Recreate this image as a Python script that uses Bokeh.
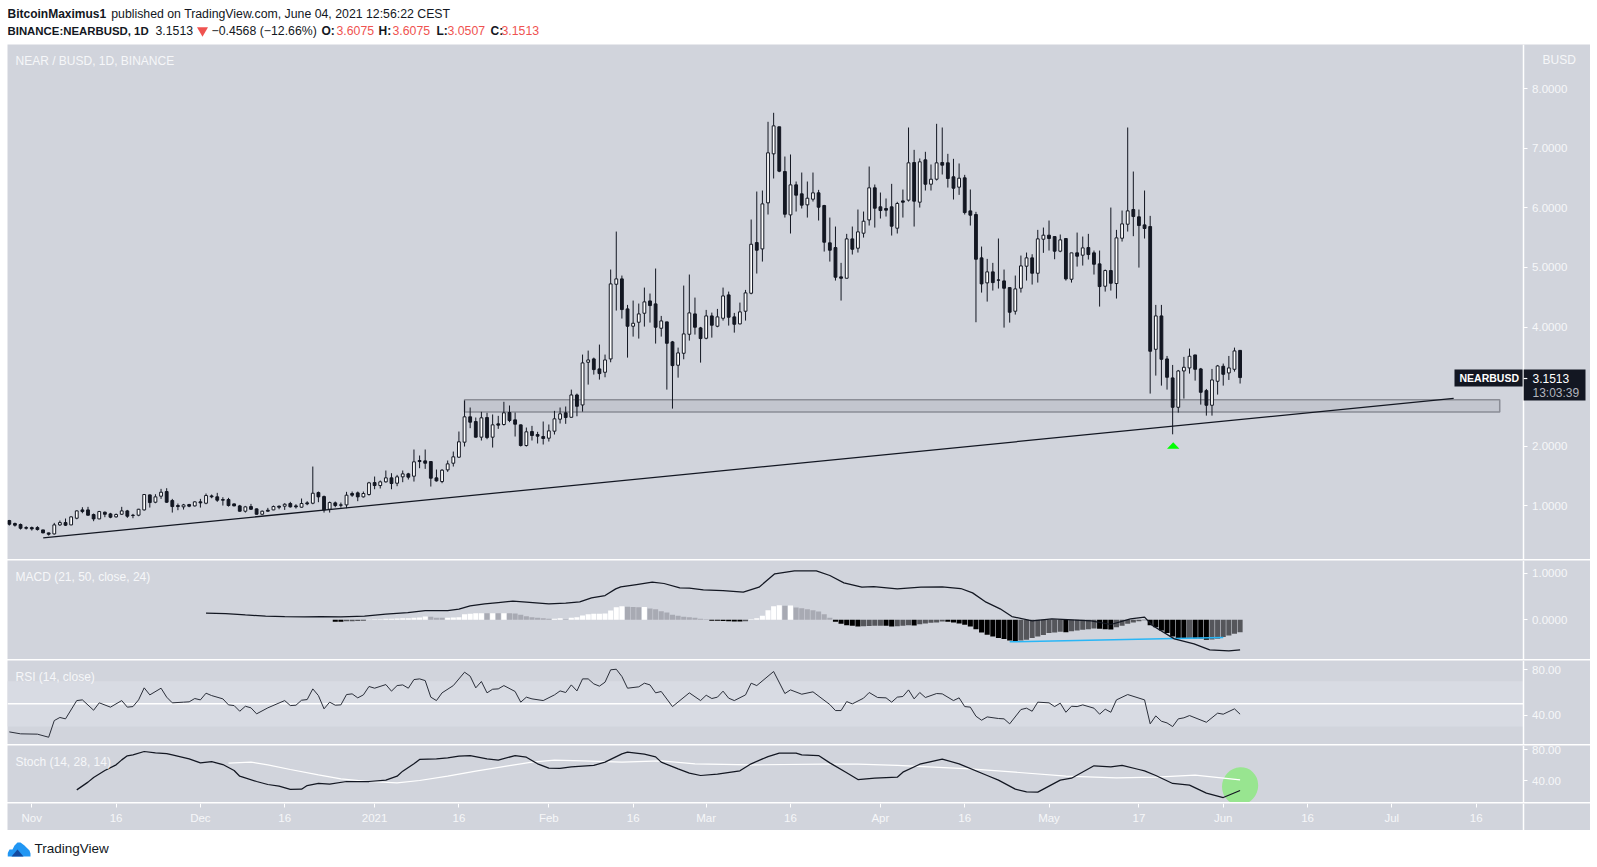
from bokeh.plotting import figure
from bokeh.layouts import column
from bokeh.models import Range1d, Label, BoxAnnotation, FixedTicker, NumeralTickFormatter
from bokeh.embed import file_html
from bokeh.resources import INLINE

# ---------- data ----------
first_day = -4  # days counted from 1 Nov 2020
highs = [
 .761,.716,.700,.655,.649,.655,.593,.548,.711,.750,
 .784,.823,.918,.974,.980,.868,.912,.901,.879,.868,
 .980,.929,.862,.946,1.192,1.187,1.192,1.282,1.293,1.114,
 1.036,1.030,1.030,1.075,1.114,1.204,1.187,1.215,1.142,1.131,
 1.036,1.013,.996,1.030,.952,.918,.963,1.002,1.002,1.041,
 1.064,1.024,1.120,1.075,1.657,1.237,1.170,1.069,1.069,1.052,
 1.232,1.237,1.237,1.237,1.400,1.489,1.422,1.590,1.545,1.517,
 1.590,1.551,1.943,1.842,1.943,1.741,1.607,1.612,1.758,1.909,
 2.245,2.766,2.648,2.480,2.576,2.559,2.531,2.508,2.744,2.682,
 2.564,2.363,2.312,2.340,2.240,2.413,2.363,2.592,2.648,2.665,
 2.949,2.882,3.537,3.604,3.486,3.705,3.537,4.965,5.603,4.864,
 4.371,4.444,4.394,4.662,4.562,4.982,4.186,4.086,3.766,3.654,
 4.696,4.881,4.494,4.002,4.287,4.242,4.304,4.662,4.595,4.237,
 4.410,4.623,5.805,6.275,6.292,7.446,7.597,7.362,6.863,6.897,
 6.443,6.594,6.443,6.594,6.303,6.051,5.838,5.687,5.077,5.564,
 5.687,5.973,5.939,6.695,6.393,6.258,6.158,6.404,6.102,6.309,
 7.350,6.975,6.830,6.942,6.729,7.412,7.350,6.908,6.824,6.746,
 6.555,6.309,5.934,5.351,5.144,5.077,5.486,4.965,4.662,4.864,
 5.200,5.250,5.222,5.631,5.670,5.788,5.519,5.553,5.486,5.245,
 5.586,5.519,5.564,5.284,5.284,4.965,6.006,5.631,5.956,7.350,
 6.611,5.973,6.292,5.866,4.371,4.371,3.514,3.363,3.279,3.498,
 3.638,3.531,3.313,2.960,3.296,3.363,3.386,3.514,3.654,3.6075]
lows = [
 .666,.649,.599,.599,.582,.582,.537,.498,.515,.660,
 .660,.672,.772,.873,.834,.739,.772,.806,.789,.800,
 .845,.795,.789,.823,.918,.968,1.041,1.114,1.047,.884,
 .924,.935,.974,.985,.968,1.024,1.125,1.064,1.002,.985,
 .991,.901,.884,.929,.851,.851,.901,.924,.940,.929,
 .968,.952,.968,1.008,1.024,1.058,.884,.884,.974,.968,
 .957,1.148,1.075,1.136,1.170,1.276,1.288,1.388,1.276,1.327,
 1.394,1.439,1.405,1.629,1.618,1.321,1.405,1.377,1.568,1.657,
 1.803,1.993,2.301,2.144,2.094,2.116,1.976,2.290,2.346,2.402,
 2.161,1.993,1.993,2.094,2.044,2.027,2.077,2.195,2.380,2.374,
 2.484,2.501,2.579,3.033,3.201,3.117,3.156,3.408,4.276,4.142,
 3.486,3.839,3.806,4.007,4.074,3.722,3.839,2.949,2.630,3.150,
 3.458,3.772,3.873,3.402,3.794,3.822,3.996,4.108,4.024,3.906,
 4.046,4.108,4.550,4.898,5.099,5.889,6.494,6.600,5.838,5.570,
 5.939,5.990,5.838,6.107,5.788,5.267,5.099,4.780,4.444,4.819,
 5.217,5.250,5.502,5.704,5.670,5.822,5.855,5.536,5.570,5.838,
 6.107,5.687,6.006,6.292,6.292,6.460,6.561,6.342,6.141,6.219,
 5.889,5.704,4.080,4.578,4.427,4.612,4.646,3.990,4.074,4.209,
 4.578,4.780,4.713,4.746,5.245,5.284,5.138,5.256,4.780,4.746,
 5.015,5.032,5.133,4.881,4.343,4.595,4.612,4.478,5.435,5.603,
 5.525,4.998,5.486,2.882,3.184,3.016,2.949,2.198,2.562,2.798,
 3.218,3.100,2.697,2.512,2.512,2.865,3.016,3.111,3.251,3.0507]
opens = [
 .750,.700,.683,.632,.632,.632,.593,.543,.526,.677,
 .716,.677,.789,.929,.929,.851,.778,.890,.862,.812,
 .856,.912,.840,.840,.929,1.181,1.058,1.159,1.237,1.086,
 1.002,.980,1.019,.996,1.064,1.041,1.164,1.148,1.103,1.103,
 1.030,.996,.907,.985,.946,.856,.924,.929,.991,.991,
 1.036,.996,.974,1.047,1.041,1.220,1.153,.940,1.047,1.013,
 1.013,1.204,1.215,1.148,1.187,1.388,1.338,1.400,1.467,1.377,
 1.484,1.534,1.495,1.758,1.752,1.741,1.467,1.405,1.601,1.713,
 1.814,2.066,2.492,2.413,2.150,2.480,2.150,2.374,2.363,2.564,
 2.441,2.357,2.010,2.245,2.195,2.161,2.133,2.251,2.452,2.559,
 2.484,2.859,2.691,3.408,3.464,3.296,3.240,3.464,4.718,4.808,
 4.304,4.013,4.080,4.231,4.438,4.388,3.979,4.086,3.750,3.358,
 3.559,3.878,4.220,3.985,3.811,4.186,4.013,4.147,4.539,4.170,
 4.052,4.265,4.567,5.418,5.312,6.085,6.908,7.362,6.611,5.883,
 6.387,6.236,6.051,6.146,6.253,6.040,5.413,5.334,4.842,4.819,
 5.480,5.323,5.575,5.799,6.337,6.018,5.990,6.018,5.659,6.118,
 6.130,6.762,6.096,6.807,6.398,6.482,6.762,6.757,6.522,6.348,
 6.505,5.950,5.889,5.161,4.741,4.926,4.791,4.774,4.662,4.265,
 4.651,5.021,5.161,4.903,5.474,5.542,5.519,5.273,5.486,4.802,
 5.245,5.206,5.334,5.245,5.060,4.685,4.948,4.730,5.491,5.726,
 5.973,5.850,5.715,5.687,3.626,4.186,3.464,3.145,2.652,3.262,
 3.313,3.531,3.296,2.932,2.686,3.089,3.341,3.229,3.290,3.6075]
closes = [
 .688,.672,.621,.621,.610,.599,.543,.520,.677,.716,
 .672,.812,.912,.901,.840,.778,.901,.856,.806,.851,
 .912,.823,.834,.940,1.187,1.052,1.148,1.226,1.058,.985,
 .985,1.013,.991,1.064,1.047,1.170,1.148,1.092,1.092,1.002,
 .996,.907,.980,.940,.856,.907,.907,.985,.974,1.024,
 .980,.980,1.036,1.030,1.209,1.148,.929,1.052,1.002,1.008,
 1.176,1.176,1.148,1.204,1.383,1.338,1.400,1.467,1.372,1.484,
 1.534,1.478,1.736,1.741,1.713,1.461,1.416,1.596,1.702,1.820,
 2.072,2.492,2.402,2.150,2.475,2.144,2.357,2.352,2.559,2.430,
 2.368,2.010,2.240,2.178,2.167,2.128,2.256,2.458,2.542,2.480,
 2.859,2.669,3.397,3.447,3.285,3.218,3.447,4.724,4.808,4.293,
 4.013,4.063,4.220,4.422,4.360,3.996,4.102,3.727,3.352,3.565,
 3.884,4.237,3.996,3.806,4.186,4.030,4.170,4.522,4.164,4.046,
 4.254,4.573,5.390,5.290,6.068,6.925,7.378,6.617,5.894,6.387,
 6.214,6.046,6.163,6.253,6.012,5.424,5.290,4.836,4.819,5.480,
 5.306,5.598,5.777,6.337,5.995,5.956,5.962,5.693,6.074,6.096,
 6.757,6.113,6.774,6.398,6.482,6.757,6.718,6.494,6.331,6.499,
 5.922,5.878,5.138,4.724,4.926,4.746,4.786,4.651,4.248,4.640,
 5.026,5.161,4.903,5.480,5.542,5.486,5.273,5.463,4.808,5.245,
 5.189,5.329,5.217,5.054,4.679,4.948,4.735,5.497,5.732,5.950,
 5.855,5.704,5.654,3.593,4.186,3.458,3.156,2.652,3.262,3.324,
 3.509,3.290,2.904,2.686,3.111,3.346,3.206,3.313,3.598,3.1513]

hist_first_day = 54
hist_vals = [
 -.0393,-.0429,-.0322,-.0286,-.0250,-.0215,
 .0072,.0114,.0143,.0215,.0250,.0286,.0322,.0358,.0429,.0501,.0715,
 .0679,.0465,.0429,.0465,.0501,.0572,.1216,.1323,.1394,.1430,.1394,.1430,.1394,.1430,.1401,.1373,
 .1073,.0787,.0572,.0429,.0322,.0215,.0250,.0358,.0143,.0429,.0572,.0930,.1216,.1287,.1323,.1359,.2002,.2717,.2932,
 .2789,.2753,.2717,.2753,.2431,.2288,.1859,.1573,.1073,.0858,.0644,.0572,.0429,.0215,.0143,
 -.0215,-.0229,-.0250,-.0286,-.0358,-.0379,-.0286,
 .0143,.0358,.0858,.2074,.2932,.3146,.3003,.3075,.2646,.2503,.2288,.2074,.1788,.1216,.0429,
 -.0429,-.0858,-.1144,-.1287,-.1430,-.1394,-.1323,-.1287,-.1251,-.1287,-.1430,-.1359,-.1287,-.1180,-.1216,
 -.0930,-.0787,-.0644,-.0572,-.0358,-.0429,-.0572,-.0787,-.1073,-.1430,-.2002,-.2717,-.3218,-.3575,-.3933,
 -.4147,-.4433,-.4648,-.4433,-.4290,-.3933,-.3575,-.3289,-.2860,-.2717,-.2574,-.2646,-.2431,-.2288,-.2145,
 -.2002,-.1859,-.1931,-.2002,-.2074,-.1573,-.1287,-.0858,-.0572,-.0286,-.0072,-.1144,-.1573,-.2288,-.2860,
 -.3575,-.3933,-.4004,-.3968,-.4004,-.4040,-.4290,-.4219,-.4076,-.3718,-.3361,-.3003,-.2646]

macd_days = [31,34.5,38,41.6,45,48.6,51.4,55,59.2,63,66.9,70,74,76,78,80.6,83,85.6,88,92,95,97.5,99.6,102,103.9,104.8,
 107.6,110.4,112.5,115.3,117,119.5,123,126.6,129.4,132.2,135.7,139.6,142,144.5,147.7,149.8,154,158.2,162,165.3,167.4,
 169.8,172.3,174.4,178,181.5,184.3,188.5,192,195.5,198,199.4,203.3,206.8,209.6,213,215]
macd_vals = [.142,.135,.106,.078,.070,.063,.070,.063,.078,.120,.156,.199,.199,.228,.299,.342,.371,.399,.378,.342,.357,.385,.471,.521,.664,.707,
 .757,.807,.779,.686,.678,.643,.628,.593,.700,.986,1.050,1.050,.950,.793,.700,.714,.664,.700,.707,.671,.578,
 .378,.235,.070,-.023,.020,.006,-.023,-.101,.020,.056,-.123,-.409,-.516,-.645,-.666,-.645]

rsi_days = [-4,-2,1,3,4,5,6,8,9,11,12,14,16,17,18,19,20,21,23,24,25,27,28,29,30,31,32,34,35,36,37,38,39,40,42,45,46,47,48,49,50,51,52,53,54,55,56,57,58,59,60,61,63,64,65,66,67,68,69,70,71,72,73,75,77,78,79,80,81,82,83,84,86,87,88,89,91,93,94,95,96,97,98,99,100,101,102,103,104,
 105,106,108,109,110,111,112,114,117,119,120,121,122,123,124,125,127,128,129,132,134,135,137,139,142,143,144,145,146,148,149,150.5,152,153,154,155,156,157,158,159,161,162,164,165,166,167,168,169,170,172,173,174,176,177,178,179,181,182,183,184,185,186,187,189,190,191,192,193,195,198,199,200,201,202,203,204,205,206,209,211,212,214,215]
rsi_vals = [25.3,23.6,23.3,20.6,35.3,38.0,36.8,52.9,53.5,44.4,50.9,47.1,52.9,47.1,47.6,53.5,64.1,57.9,63.8,55.9,50.9,51.5,51.8,54.7,53.5,59.4,57.3,54.4,49.1,48.5,43.5,47.9,46.5,41.2,46.5,52.9,48.5,48.8,53.2,53.8,63.2,57.3,45.6,51.5,48.8,49.1,58.2,58.8,55.3,57.9,65.3,63.8,67.0,61.2,66.1,66.7,63.8,71.4,72.0,70.5,55.9,52.9,59.7,66.1,77.9,74.4,64.1,69.7,59.7,62.9,63.2,66.1,60.9,51.5,55.9,54.4,52.9,57.9,61.4,60.0,66.7,61.4,72.0,72.0,67.6,65.6,69.1,80.0,80.5,
 74.1,63.8,65.0,68.2,66.7,59.7,60.9,47.6,59.7,52.9,57.6,54.7,55.9,61.2,55.0,52.9,57.9,68.2,66.1,78.5,59.1,62.3,58.5,60.6,49.4,44.1,44.1,52.0,50.0,55.0,60.0,55.6,55.3,51.5,55.9,56.5,62.3,54.4,60.0,55.6,59.1,58.8,52.9,55.3,47.6,47.1,39.1,35.6,38.5,37.1,36.8,32.4,45.0,46.2,43.5,51.5,50.9,47.6,50.6,42.6,47.9,47.6,49.1,46.2,40.9,45.3,42.6,53.5,58.2,53.5,32.4,39.4,34.7,33.2,30.0,36.8,37.7,39.7,33.8,41.8,40.9,45.6,40.9]

stoch_k_days = [8,10,11,13,15,16,17,18,20,22,24,25,28,30,32,34,36,37,40,42,44,46,48,49,51,53,56,60,63,65,66,68,69,72,74,76,78,81,83,86,88,90,92,94,96,100,102,105,
 106,109,111,112,115,117,119,122,126,128,131,133,136,137,140,142,145,147,150,154,155,158,162,165,170,172,175,177,179,181,183,185,189,192,194,197,198,200,203,206,209,212,215]
stoch_k_vals = [28.5,38.3,44.2,53.0,60.2,66.5,71.6,72.8,77.1,75.4,74.5,72.8,67.8,62.7,64.4,60.6,53.0,45.8,39.1,35.3,33.2,29.0,29.4,34.0,36.6,35.7,39.1,39.1,40.8,45.8,52.2,61.5,67.0,67.8,69.0,71.2,72.0,67.8,66.1,72.0,69.9,61.5,56.0,55.6,57.7,59.4,63.6,74.1,
 76.2,73.7,70.3,63.6,55.1,49.7,46.7,48.4,52.6,61.5,70.7,75.0,75.0,72.8,72.0,62.7,50.1,41.6,43.3,44.6,50.9,61.0,67.4,61.5,46.7,40.8,29.4,26.0,25.6,33.2,40.8,43.3,59.0,57.7,59.4,54.3,52.6,46.7,36.6,34.5,24.3,18.8,27.7]
stoch_d_days = [35,39,42,46,51,55,60,65,69,74,79,85,89,93,98,105,112,118,128,141,147,154,167,175,184,193,200,207,215]
stoch_d_vals = [62.3,63.6,60.2,54.3,47.5,42.5,39.1,37.4,40.4,45.8,52.2,59.3,63.6,66.1,65.3,63.6,65.3,61.5,60.2,61.0,61.0,59.4,55.1,50.9,45.8,43.7,44.6,47.1,41.2]

price_ticks = [1, 2, 3, 4, 5, 6, 7, 8]
macd_ticks = [0, 1]
osc_ticks = [40, 80]
time_tick_days = [0, 15, 30, 45, 61, 76, 92, 107, 120, 135, 151, 166, 181, 197, 212, 227, 242, 257]
time_tick_labels = ["Nov","16","Dec","16","2021","16","Feb","16","Mar","16","Apr","16","May","17","Jun","16","Jul","16"]

zone_days = [77, 261.2]
zone_prices = [2.573, 2.778]
trend_days = [2.03, 253]
trend_prices = [0.46, 2.80]
divergence_days = [174, 212]
divergence_vals = [-.472, -.38]
signal_days = [202, 203.1, 204.2]
signal_prices = [1.955, 2.065, 1.955]
rsi_band = [30, 70]
rsi_mid = 50

# ---------- styling ----------
PANEL = "#d1d4dc"
INK = "#131722"
SOFT = "#f6f7f9"
FONT = "Liberation Sans"
WIDTH = 1583
X_START, X_END = -4.324, 277.35
AXIS_DAY = 265.36
day_of_x = lambda px: (px - 31.3) / 5.62


def pane(h, y_range, ticks=None, fmt=None, with_time_axis=False):
    p = figure(width=WIDTH, height=h, x_range=Range1d(X_START, X_END), y_range=Range1d(*y_range),
               x_axis_location="below" if with_time_axis else None, y_axis_location="right",
               toolbar_location=None, output_backend="svg", min_border=0,
               background_fill_color=PANEL, border_fill_color=PANEL, outline_line_color=None)
    p.grid.visible = False
    ax = p.yaxis[0]
    ax.fixed_location = AXIS_DAY
    ax.axis_line_color = "white"
    ax.axis_line_width = 1.5
    if ticks:
        ax.ticker = FixedTicker(ticks=ticks)
        ax.formatter = NumeralTickFormatter(format=fmt)
        ax.major_tick_line_color = "white"
        ax.major_tick_out = 4
        ax.major_tick_in = 0
        ax.minor_tick_line_color = None
        ax.major_label_standoff = 5
        ax.major_label_text_color = SOFT
        ax.major_label_text_font = FONT
        ax.major_label_text_font_size = "11.5px"
        ax.major_label_text_font_style = "normal"
    else:
        ax.ticker = FixedTicker(ticks=[])
        ax.major_tick_line_color = None
        ax.minor_tick_line_color = None
    return p


def text(p, x, y, s, color=SOFT, size="12px", style="normal", font=FONT):
    p.add_layout(Label(x=x, y=y, text=s, text_color=color, text_font_size=size, text_font_style=style,
                       text_font=font, text_baseline="middle", text_align="left", level="overlay"))


# ---------- header ----------
head = figure(width=WIDTH, height=43, x_range=Range1d(7, 7 + WIDTH), y_range=Range1d(43, 0),
              x_axis_location=None, y_axis_location=None, toolbar_location=None, output_backend="svg",
              min_border=0, background_fill_color="white", border_fill_color="white", outline_line_color=None)
head.grid.visible = False
RED = "#ef5350"
text(head, 7, 13, "BitcoinMaximus1", INK, "12px", "bold")
text(head, 110.7, 13, "published on TradingView.com, June 04, 2021 12:56:22 CEST", INK, "12.3px")
text(head, 7, 30, "BINANCE:NEARBUSD, 1D", INK, "11.4px", "bold")
text(head, 155, 30, "3.1513", INK, "12.3px")
head.scatter([202], [30], marker="inverted_triangle", size=11, fill_color=RED, line_color=None)
text(head, 211, 30, "\u22120.4568 (\u221212.66%)", INK, "12.3px")
for x, s in [(321, "O:"), (378, "H:"), (436, "L:"), (490, "C:")]:
    text(head, x, 30, s, INK, "12px", "bold")
for x, s in [(336, "3.6075"), (392, "3.6075"), (447, "3.0507"), (501, "3.1513")]:
    text(head, x, 30, s, RED, "12.3px")

# ---------- price ----------
price = pane(515, (0.096, 8.744), price_ticks, "0.0000")
days = [first_day + i for i in range(len(closes))]
up = [c >= o for o, c in zip(opens, closes)]
price.add_layout(BoxAnnotation(left=zone_days[0], right=zone_days[1], bottom=zone_prices[0], top=zone_prices[1],
                               fill_color="#787b86", fill_alpha=0.15, line_color="#8b8d96", line_alpha=1,
                               line_width=1.5, level="underlay"))
price.segment(days, lows, days, highs, line_color=INK, line_width=1)
price.vbar([d for d, u in zip(days, up) if u], width=0.5,
           bottom=[o for o, u in zip(opens, up) if u], top=[c for c, u in zip(closes, up) if u],
           fill_color="white", line_color=INK, line_width=1)
price.vbar([d for d, u in zip(days, up) if not u], width=0.5,
           top=[o for o, u in zip(opens, up) if not u], bottom=[c for c, u in zip(closes, up) if not u],
           fill_color=INK, line_color=INK, line_width=1)
price.line(trend_days, trend_prices, line_color=INK, line_width=1.25)
price.patch(signal_days, signal_prices, fill_color="#00ff00", line_color=None)
text(price, day_of_x(15), 8.475, "NEAR / BUSD, 1D, BINANCE")
text(price, day_of_x(1542), 8.48, "BUSD")
price.add_layout(BoxAnnotation(left=day_of_x(1454), right=AXIS_DAY - 0.1, bottom=3.0, top=3.286,
                               fill_color=INK, fill_alpha=1, line_color=None, level="overlay"))
price.add_layout(BoxAnnotation(left=AXIS_DAY + 0.1, right=day_of_x(1585), bottom=2.766, top=3.286,
                               fill_color=INK, fill_alpha=1, line_color=None, level="overlay"))
price.add_layout(BoxAnnotation(left=AXIS_DAY + 0.1, right=AXIS_DAY + 0.75, bottom=3.125, top=3.145,
                               fill_color="white", fill_alpha=1, line_color=None, level="overlay"))
text(price, day_of_x(1459), 3.14, "NEARBUSD", "white", "10.5px", "bold")
text(price, day_of_x(1532), 3.135, "3.1513", "white")
text(price, day_of_x(1532), 2.90, "13:03:39", "#b2b5be")

# ---------- MACD ----------
macd = pane(99, (-0.852, 1.2725), macd_ticks, "0.0000")
hist_days = [hist_first_day + i for i in range(len(hist_vals))]
def hist_colour(i):
    v = hist_vals[i]
    prev = hist_vals[i - 1] if i else 0
    if v >= 0:
        return "#ffffff" if v > prev else "#a8aab3"
    return "#000000" if v < prev else "#55565b"
macd.vbar(hist_days, width=0.9, top=hist_vals, bottom=0,
          fill_color=[hist_colour(i) for i in range(len(hist_vals))], line_color=None)
macd.line(divergence_days, divergence_vals, line_color="#29b6f6", line_width=1.5)
macd.line(macd_days, macd_vals, line_color=INK, line_width=1.25)
text(macd, day_of_x(15), 0.914, "MACD (21, 50, close, 24)")

# ---------- RSI ----------
rsi = pane(84, (14.2, 88.2), osc_ticks, "0.00")
rsi.add_layout(BoxAnnotation(bottom=rsi_band[0], top=rsi_band[1], right=AXIS_DAY, fill_color="#d8dbe3",
                             fill_alpha=1, line_color=None, level="underlay"))
rsi.line([X_START, AXIS_DAY], [rsi_mid, rsi_mid], line_color="white", line_width=1.5)
rsi.line(rsi_days, rsi_vals, line_color="#2a2e39", line_width=1)
text(rsi, day_of_x(15), 73.5, "RSI (14, close)")

# ---------- Stoch ----------
stoch = pane(57, (12.5, 84.7), osc_ticks, "0.00")
stoch.ellipse([215], [33.4], width=38, height=36, angle=1.2, width_units="screen", height_units="screen",
              fill_color="#98e590", line_color=None)
stoch.line(stoch_d_days, stoch_d_vals, line_color="white", line_width=1.2)
stoch.line(stoch_k_days, stoch_k_vals, line_color=INK, line_width=1.25)
text(stoch, day_of_x(15), 63.5, "Stoch (14, 28, 14)")

# ---------- time axis ----------
tpane = pane(27, (0, 1), with_time_axis=True)
tax = tpane.xaxis[0]
tax.fixed_location = 1
tax.ticker = FixedTicker(ticks=time_tick_days)
tax.major_label_overrides = dict(zip(time_tick_days, time_tick_labels))
tax.axis_line_color = None
tax.major_tick_line_color = "white"
tax.major_tick_out = 4
tax.major_tick_in = 0
tax.minor_tick_line_color = None
tax.major_label_standoff = 4
tax.major_label_text_color = SOFT
tax.major_label_text_font = FONT
tax.major_label_text_font_size = "11.5px"
tax.major_label_text_font_style = "normal"
tpane.line([X_START], [0], line_color=None)

# ---------- footer ----------
foot = figure(width=WIDTH, height=29, x_range=Range1d(7, 7 + WIDTH), y_range=Range1d(860, 831),
              x_axis_location=None, y_axis_location=None, toolbar_location=None, output_backend="svg",
              min_border=0, background_fill_color="white", border_fill_color="white", outline_line_color=None)
foot.grid.visible = False
foot.patch([7, 9, 12, 14, 17, 20, 24, 27, 29, 30, 30, 7], [853, 849, 849, 845, 842, 842, 845, 848, 850, 853, 856, 856],
           fill_color="#2196f3", line_color=None)
foot.patch([11, 17, 23], [856, 849, 856], fill_color="#134a9f", line_color=None)
text(foot, 34, 848, "TradingView", INK, "13.5px")

page = column(head, price, macd, rsi, stoch, tpane, foot, spacing=1, margin=(0, 0, 0, 7))
open("out.html", "w").write(file_html(page, INLINE))
